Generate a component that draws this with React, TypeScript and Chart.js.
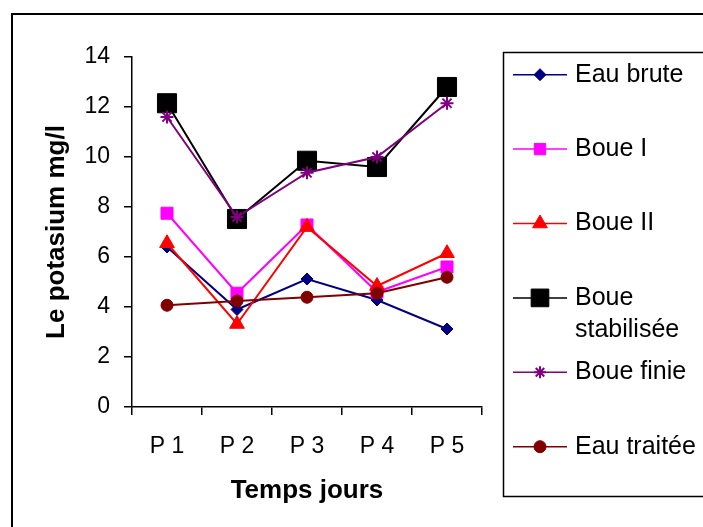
import React, { useEffect, useRef } from 'react';
import { Chart, registerables } from 'chart.js';
import { drawPoint } from 'chart.js/helpers';

Chart.register(...registerables);

const categories = ['P 1', 'P 2', 'P 3', 'P 4', 'P 5'];
const seriesNames = ['Eau brute', 'Boue I', 'Boue II', 'Boue stabilisée', 'Boue finie', 'Eau traitée'];
const eauBrute = [6.4, 3.9, 5.12, 4.28, 3.12];
const boueI = [7.75, 4.55, 7.28, 4.6, 5.6];
const boueII = [6.55, 3.32, 7.2, 4.84, 6.15];
const boueStabilisee = [12.15, 7.52, 9.85, 9.6, 12.8];
const boueFinie = [11.6, 7.6, 9.37, 10.0, 12.15];
const eauTraitee = [4.07, 4.24, 4.39, 4.55, 5.19];
const yTicks = [0, 2, 4, 6, 8, 10, 12, 14];

const FONT = "'Liberation Sans', Arial, sans-serif";

const styles = [
  { color: '#000080', point: 'rectRot', r: 6, lr: 6, bw: 1 },
  { color: '#FF00FF', point: 'rect', r: 8.5, lr: 8, bw: 1 },
  { color: '#FF0000', point: 'triangle', r: 8.5, lr: 8.5, bw: 1 },
  { color: '#000000', point: 'rect', r: 13.5, lr: 12.5, bw: 1 },
  { color: '#800080', point: 'star', r: 6.5, lr: 6, bw: 2 },
  { color: '#800000', point: 'circle', r: 6, lr: 6, bw: 1 },
];

const allData = [eauBrute, boueI, boueII, boueStabilisee, boueFinie, eauTraitee];

function wrap(ctx: CanvasRenderingContext2D, text: string, maxW: number): string[] {
  const words = text.split(' ');
  const lines: string[] = [];
  let cur = '';
  for (const w of words) {
    const t = cur ? cur + ' ' + w : w;
    if (ctx.measureText(t).width > maxW && cur) {
      lines.push(cur);
      cur = w;
    } else cur = t;
  }
  if (cur) lines.push(cur);
  return lines;
}

const frameLegend = {
  id: 'frameLegend',
  afterDraw(chart: any) {
    const ctx: CanvasRenderingContext2D = chart.ctx;
    ctx.save();
    ctx.strokeStyle = '#000';
    ctx.lineWidth = 2;
    ctx.strokeRect(12, 14, 720, 540);
    ctx.lineWidth = 1.5;
    ctx.strokeRect(503.5, 52.5, 230, 444);
    ctx.font = `25px ${FONT}`;
    ctx.textBaseline = 'middle';
    ctx.textAlign = 'left';
    chart.data.datasets.forEach((ds: any, i: number) => {
      const y = 74.7 + i * 74.4;
      ctx.strokeStyle = ds.borderColor;
      ctx.lineWidth = 1.5;
      ctx.beginPath();
      ctx.moveTo(513, y);
      ctx.lineTo(567, y);
      ctx.stroke();
      ctx.fillStyle = ds.pointBackgroundColor;
      ctx.strokeStyle = ds.pointBorderColor;
      ctx.lineWidth = ds.pointBorderWidth;
      drawPoint(ctx, { pointStyle: ds.pointStyle, radius: styles[i].lr, rotation: 0, borderWidth: ds.pointBorderWidth } as any, 540, y);
      ctx.fillStyle = '#000';
      const lines = wrap(ctx, ds.label, 126);
      lines.forEach((ln, k) => ctx.fillText(ln, 575, y + k * 32));
    });
    ctx.restore();
  },
};

export default function App() {
  const ref = useRef<HTMLCanvasElement>(null);
  useEffect(() => {
    const canvas = ref.current!;
    const chart = new Chart(canvas, {
      type: 'line',
      data: {
        labels: categories,
        datasets: allData.map((d, i) => ({
          label: seriesNames[i],
          data: d,
          borderColor: styles[i].color,
          backgroundColor: styles[i].color,
          pointBackgroundColor: styles[i].color,
          pointBorderColor: styles[i].color,
          pointStyle: styles[i].point as any,
          pointRadius: styles[i].r,
          pointBorderWidth: styles[i].bw,
          borderWidth: 2,
          tension: 0,
          fill: false,
          order: 10 - i,
        })),
      },
      options: {
        responsive: false,
        animation: false,
        layout: { padding: { left: 41, top: 57, right: 221, bottom: 0 } },
        plugins: { legend: { display: false }, tooltip: { enabled: false } },
        scales: {
          x: {
            type: 'category',
            offset: true,
            grid: { display: true, drawOnChartArea: false, drawTicks: true, tickLength: 8, color: '#000', lineWidth: 1.5, offset: true },
            border: { display: true, color: '#000', width: 1.5 },
            ticks: { color: '#000', font: { family: FONT, size: 23 }, padding: 18, maxRotation: 0, autoSkip: false },
            title: { display: true, text: 'Temps jours', color: '#000', font: { family: FONT, size: 26, weight: 'bold' }, padding: { top: 0, bottom: 21 } },
            afterFit: (s: any) => { s.height = 120; },
          },
          y: {
            type: 'linear',
            min: 0,
            max: 14,
            afterBuildTicks: (s: any) => { s.ticks = yTicks.map((v) => ({ value: v })); },
            grid: { display: true, drawOnChartArea: false, drawTicks: true, tickLength: 8, color: '#000', lineWidth: 1.5 },
            border: { display: true, color: '#000', width: 1.5 },
            ticks: { color: '#000', font: { family: FONT, size: 23 }, padding: 14 },
            title: { display: true, text: 'Le potasium mg/l', color: '#000', font: { family: FONT, size: 26, weight: 'bold' }, padding: { top: 0, bottom: 0 } },
            afterFit: (s: any) => { s.width = 91; },
          },
        },
      },
      plugins: [frameLegend],
    });
    return () => chart.destroy();
  }, []);
  return (
    <div style={{ position: 'fixed', left: 0, top: 0, width: 703, height: 527, background: '#fff' }}>
      <canvas ref={ref} width={703} height={527} style={{ display: 'block', width: 703, height: 527 }} />
    </div>
  );
}
